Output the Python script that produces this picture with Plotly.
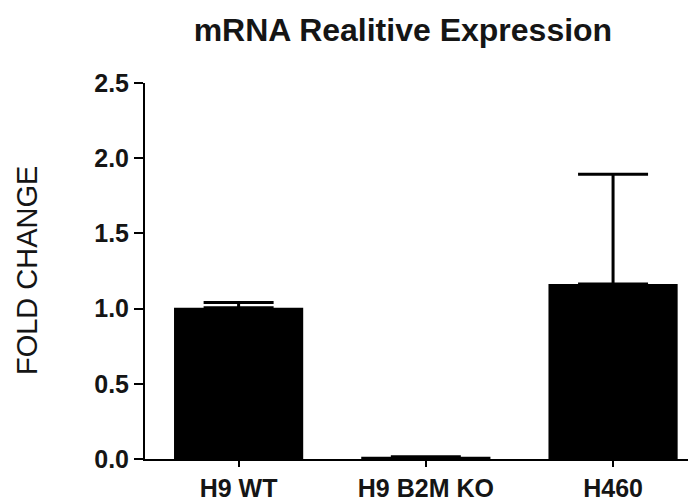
import plotly.graph_objects as go

categories = ["H9 WT", "H9 B2M KO", "H460"]
fold_change = [1.005, 0.015, 1.163]
error_plus = [0.035, 0.0, 0.73]
y_ticks = [0.0, 0.5, 1.0, 1.5, 2.0, 2.5]
y_tick_labels = ["0.0", "0.5", "1.0", "1.5", "2.0", "2.5"]

FONT = "Arial, Liberation Sans, sans-serif"
TXT = "#151515"

fig = go.Figure()
fig.add_trace(go.Bar(
    x=categories,
    y=fold_change,
    width=0.69,
    marker=dict(color="black", line=dict(color="black", width=0)),
    error_y=dict(type="data", symmetric=False, array=error_plus,
                 arrayminus=[0, 0, 0], color="black", thickness=3, width=35),
))

# the page body adds an 8px offset, so the figure is sized to 688x496
fig.update_layout(
    width=688, height=496,
    margin=dict(l=137, r=0, t=75, b=45),
    paper_bgcolor="white", plot_bgcolor="white",
    showlegend=False,
    title=dict(text="<b>mRNA Realitive Expression</b>", xref="container", x=0.574,
               xanchor="center", yref="container", y=0.956, yanchor="middle",
               font=dict(family=FONT, size=32, color=TXT)),
    xaxis=dict(range=[-0.5, 2.443], showline=True, linecolor="black", linewidth=2,
               ticks="outside", ticklen=6, tickwidth=2, tickcolor="black",
               showgrid=False, zeroline=False, automargin=False,
               tickfont=dict(family=FONT, size=25, color=TXT),
               ticktext=["<b>%s</b>" % c for c in categories], tickvals=categories),
    yaxis=dict(range=[0, 2.5], showline=True, linecolor="black", linewidth=2,
               ticks="outside", ticklen=9, tickwidth=2, tickcolor="black",
               showgrid=False, zeroline=False, automargin=False,
               tickvals=y_ticks, ticktext=["<b>%s</b>" % t for t in y_tick_labels],
               tickfont=dict(family=FONT, size=25, color=TXT)),
    annotations=[dict(text="FOLD CHANGE", textangle=-90, xref="paper", yref="paper",
                      x=-0.214, y=0.5, xanchor="center", yanchor="middle",
                      showarrow=False, font=dict(family=FONT, size=29, color=TXT))],
)

fig.write_html("out.html")
